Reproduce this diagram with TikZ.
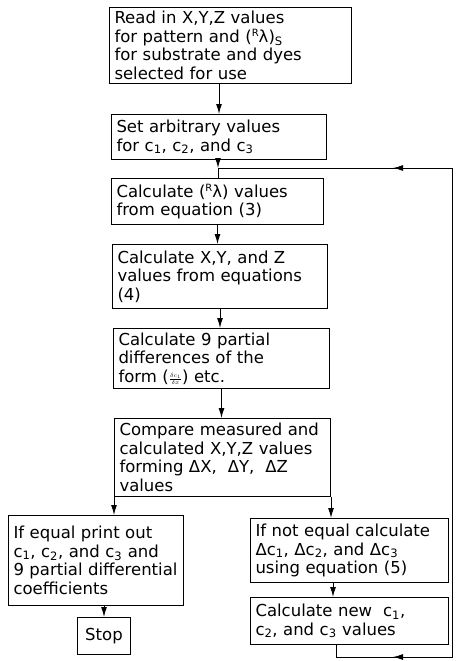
\documentclass[tikz,border=0pt]{standalone}
\usepackage{fontspec}
\setmainfont{DejaVu Sans}
\usetikzlibrary{arrows.meta}
\newcommand{\Rl}{({\raisebox{0.36em}{\fontsize{10}{10}\selectfont R}}λ)}
\newcommand{\cc}[1]{c\textsubscript{#1}}
\begin{document}
\begin{tikzpicture}[x=1pt,y=-1pt,
  box/.style={draw, line width=1pt, anchor=north west, align=left,
    inner xsep=5pt, inner ysep=2pt, font=\fontsize{16.5}{18.5}\selectfont},
  arr/.style={line width=1pt, -{Latex[length=10pt,width=6pt]}},
  ln/.style={line width=1pt}]
\useasboundingbox (0,0) rectangle (455,661);

\node[box, minimum width=242pt, minimum height=76pt, text width=232pt] (b1) at (109,7)
  {Read in X,Y,Z values\\for pattern and \Rl\textsubscript{S}\\for substrate and dyes\\selected for use};
\node[box, minimum width=215pt, minimum height=45pt, text width=205pt] (b2) at (111,114)
  {Set arbitrary values\\for \cc{1}, \cc{2}, and \cc{3}};
\node[box, minimum width=212pt, minimum height=46pt, text width=202pt] (b3) at (111,178)
  {Calculate \Rl\ values\\from equation (3)};
\node[box, minimum width=215pt, minimum height=64pt, text width=205pt] (b4) at (112,244)
  {Calculate X,Y, and Z\\values from equations\\(4)};
\node[box, minimum width=216pt, minimum height=60pt, text width=206pt] (b5) at (113,328)
  {Calculate 9 partial\\differences of the\\form (\raisebox{0.05em}{\fontsize{9}{9}\selectfont$\frac{\delta c_1}{\delta x}$}) etc.};
\node[box, minimum width=216pt, minimum height=78pt, text width=206pt] (b6) at (114,418)
  {Compare measured and\\calculated X,Y,Z values\\forming ΔX,\ \ ΔY,\ \ ΔZ\\values};
\node[box, minimum width=175pt, minimum height=90pt, text width=165pt] (b7) at (8,515)
  {If equal print out\\\cc{1}, \cc{2}, and \cc{3} and\\9 partial differential\\coefficients};
\node[box, minimum width=198pt, minimum height=64pt, text width=188pt] (b8) at (250,518)
  {If not equal calculate\\Δ\cc{1}, Δ\cc{2}, and Δ\cc{3}\\using equation (5)};
\node[box, minimum width=198pt, minimum height=47pt, text width=188pt] (b9) at (250,597)
  {Calculate new \ \cc{1},\\\cc{2}, and \cc{3} values};
\node[box, minimum width=53pt, minimum height=37pt, align=center] (stop) at (77,617) {Stop};

% loop coordinates
\coordinate (jn) at (218,168);
\coordinate (ta) at (393,168);
\coordinate (tr) at (452,168);
\coordinate (br) at (452,657);
\coordinate (ba) at (393,657);
\coordinate (bl) at (336,657);
\coordinate (ax) at (333,0);

% connectors
\draw[arr] (b2.north |- b1.south) -- (b2.north);
\draw[arr] (b2.south -| jn) -- (jn);
\draw[ln] (jn) -- (b3.north -| jn);
\draw[arr] (b3.south) -- (b3.south |- b4.north);
\draw[arr] (b4.south) -- (b4.south |- b5.north);
\draw[arr] (b5.south) -- (b5.south |- b6.north);
\draw[arr] (b6.south west) -- (b6.south west |- b7.north);
\draw[arr] (b6.south east) -- (b6.south east |- b8.north);
\draw[arr] (b8.south -| ax) -- (b9.north -| ax);
\draw[arr] (stop.north |- b7.south) -- (stop.north);

% return loop
\draw[ln] (b9.south -| bl) -- (bl) -- (br) -- (tr) -- (jn);
\draw[arr] (br) -- (ba);
\draw[arr] (tr) -- (ta);
\end{tikzpicture}
\end{document}
